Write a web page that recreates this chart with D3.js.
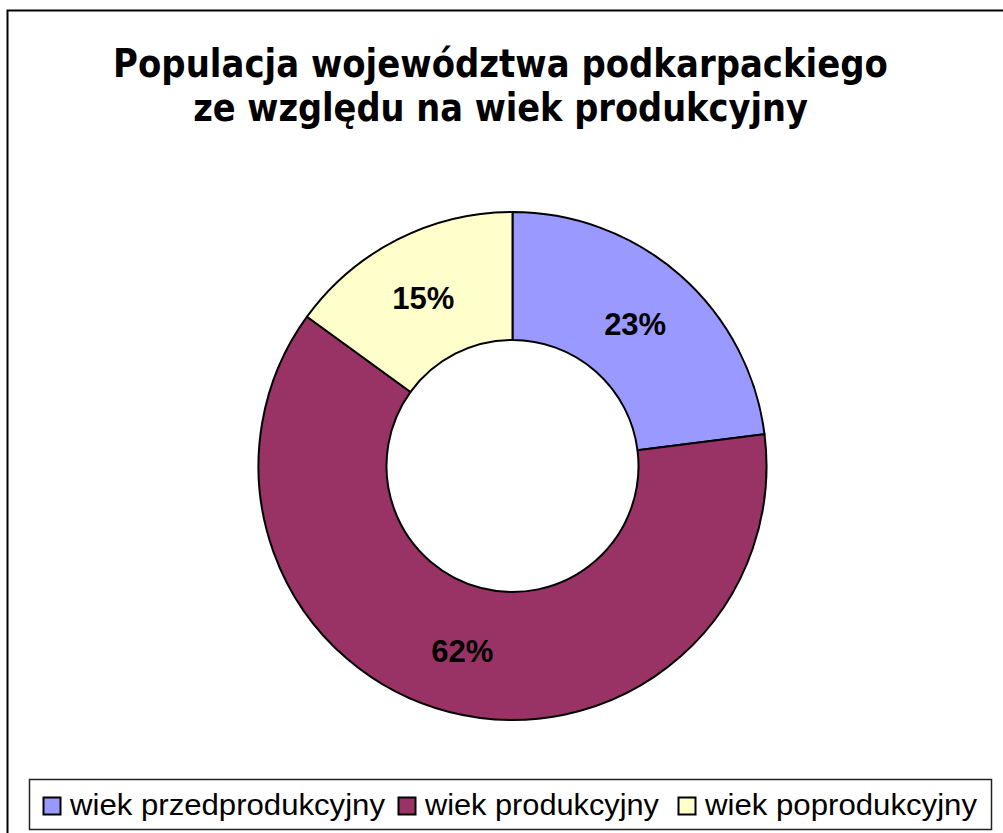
<!DOCTYPE html>
<html>
<head>
<meta charset="utf-8">
<script src="https://cdn.jsdelivr.net/npm/d3@7"></script>
<style>
  body { margin: 0; background: #fff; }
  svg { display: block; }
</style>
</head>
<body>
<div id="chart"></div>
<script>
const chart_width = 1003;
const chart_height = 833;

const title_lines = ["Populacja województwa podkarpackiego", "ze względu na wiek produkcyjny"];
const categories = ["wiek przedprodukcyjny", "wiek produkcyjny", "wiek poprodukcyjny"];
const shares = [23, 62, 15];
const slice_colors = ["#9999FF", "#993366", "#FFFFCC"];

const svg = d3.select("#chart")
    .append("svg")
    .attr("width", chart_width)
    .attr("height", chart_height);

// outer frame (right and bottom run off the picture)
svg.append("rect")
    .attr("x", 7.5)
    .attr("y", 10.5)
    .attr("width", 1010)
    .attr("height", 840)
    .attr("fill", "#fff")
    .attr("stroke", "#000")
    .attr("stroke-width", 2);

// title, squeezed horizontally to the reference width
const title_widths = [775, 615];
const titles = svg.selectAll(".title")
    .data(title_lines)
    .join("text")
    .attr("class", "title")
    .attr("text-anchor", "middle")
    .style("font-family", "'DejaVu Sans', sans-serif")
    .style("font-weight", "bold")
    .style("font-size", "39px")
    .text(d => d);

titles.each(function (d, i) {
    const w = this.getComputedTextLength();
    const k = title_widths[i] / w;
    d3.select(this)
        .attr("transform", `translate(500.5,${77 + i * 44}) scale(${k},1)`);
});

// donut
const cx = 512.5, cy = 466;
const outer_r = 254, inner_r = 126;

const pie = d3.pie().sort(null).value(d => d);
const arc = d3.arc().innerRadius(inner_r).outerRadius(outer_r);

const donut = svg.append("g")
    .attr("transform", `translate(${cx},${cy})`);

const arcs = pie(shares);

donut.selectAll(".slice")
    .data(arcs)
    .join("path")
    .attr("class", "slice")
    .attr("d", arc)
    .attr("fill", (d, i) => slice_colors[i])
    .attr("stroke", "#000")
    .attr("stroke-width", 2)
    .attr("stroke-linejoin", "round");

donut.selectAll(".pct")
    .data(arcs)
    .join("text")
    .attr("class", "pct")
    .attr("x", d => arc.centroid(d)[0] - 3)
    .attr("y", d => arc.centroid(d)[1] + 12)
    .attr("text-anchor", "middle")
    .style("font-family", "'Liberation Sans', Arial, sans-serif")
    .style("font-weight", "bold")
    .style("font-size", "31px")
    .text(d => d.data + "%");

// legend
const legend = svg.append("g");

legend.append("rect")
    .attr("x", 29.5)
    .attr("y", 779.5)
    .attr("width", 962)
    .attr("height", 50)
    .attr("fill", "#fff")
    .attr("stroke", "#222")
    .attr("stroke-width", 1.5);

const item_x = [43, 398, 678];
const text_widths = [315, 234, 272];

const items = legend.selectAll(".item")
    .data(categories)
    .join("g")
    .attr("class", "item")
    .attr("transform", (d, i) => `translate(${item_x[i]},0)`);

items.append("rect")
    .attr("x", 0.5)
    .attr("y", 797.5)
    .attr("width", 17)
    .attr("height", 17)
    .attr("fill", (d, i) => slice_colors[i])
    .attr("stroke", "#000")
    .attr("stroke-width", 2);

items.append("text")
    .attr("x", 27)
    .attr("y", 815)
    .attr("textLength", (d, i) => text_widths[i])
    .attr("lengthAdjust", "spacingAndGlyphs")
    .style("font-family", "'Liberation Sans', Arial, sans-serif")
    .style("font-size", "30px")
    .text(d => d);
</script>
</body>
</html>
